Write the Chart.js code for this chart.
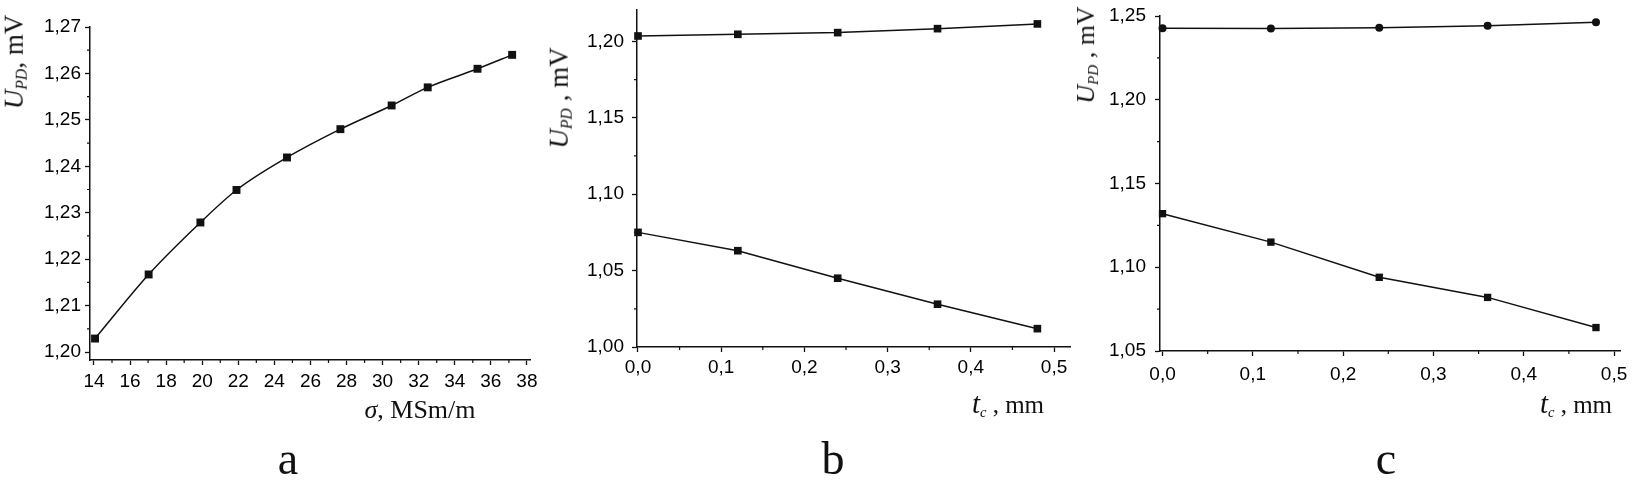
<!DOCTYPE html>
<html lang="en">
<head>
<meta charset="UTF-8">
<title>U_PD versus conductivity and coating thickness</title>
<script src="https://cdn.jsdelivr.net/npm/chart.js"></script>
<style>
  html, body { margin: 0; padding: 0; background: #fff; }
  #page { position: relative; width: 1632px; height: 481px; overflow: hidden; }
  .layer { position: absolute; left: 0; top: 0; width: 1632px; height: 481px; }
  .txt {
    position: absolute;
    font-family: "Liberation Serif", "Times New Roman", serif;
    color: #111;
    white-space: nowrap;
    line-height: 1;
    transform: translate(-50%, -50%);
  }
  .rot { transform: translate(-50%, -50%) rotate(-90deg); }
  .txt sub { font-size: 58%; font-style: italic; vertical-align: -0.25em; }
  .panel { font-size: 46px; transform: translate(-50%, 0); }
</style>
</head>
<body>
<div id="page">
  <div class="layer"><canvas id="chartA"></canvas></div>
  <div class="layer"><canvas id="chartB"></canvas></div>
  <div class="layer"><canvas id="chartC"></canvas></div>

  <div class="txt rot" style="left:15px; top:62px; font-size:27px;"><i>U</i><sub>PD</sub>, mV</div>
  <div class="txt" style="left:420px; top:410px; font-size:26px;"><i>σ</i>, MSm/m</div>

  <div class="txt rot" style="left:560px; top:98px; font-size:27px;"><i>U</i><sub>PD</sub> , mV</div>
  <div class="txt" style="left:1008px; top:404px; font-size:25px;"><i style="font-size:29px">t</i><sub>c</sub> , mm</div>

  <div class="txt rot" style="left:1087px; top:55px; font-size:26px;"><i>U</i><sub>PD</sub> , mV</div>
  <div class="txt" style="left:1576px; top:404px; font-size:25px;"><i style="font-size:29px">t</i><sub>c</sub> , mm</div>

  <div class="txt panel" style="left:288px; top:436px;">a</div>
  <div class="txt panel" style="left:833px; top:436px;">b</div>
  <div class="txt panel" style="left:1386px; top:436px;">c</div>
</div>

<script>
// panel a: U_PD vs sigma
const sigma = [14.06, 17.03, 19.9, 21.9, 24.7, 27.66, 30.5, 32.5, 35.26, 37.18];
const updSigma = [1.2029, 1.2167, 1.2279, 1.2349, 1.2419, 1.248, 1.2531, 1.257, 1.261, 1.264];
const aXTicks = [14, 16, 18, 20, 22, 24, 26, 28, 30, 32, 34, 36, 38];
const aYTicks = [1.20, 1.21, 1.22, 1.23, 1.24, 1.25, 1.26, 1.27];

// panels b and c: U_PD vs coating thickness
const thickness = [0, 0.12, 0.24, 0.36, 0.48];
const bUpper = [1.2035, 1.2046, 1.2057, 1.2083, 1.2114];
const bLower = [1.075, 1.063, 1.045, 1.028, 1.012];
const cUpper = [1.2427, 1.2425, 1.243, 1.2442, 1.2462];
const cLower = [1.132, 1.115, 1.094, 1.082, 1.064];
const tTicks = [0, 0.1, 0.2, 0.3, 0.4, 0.5];
const bYTicks = [1.00, 1.05, 1.10, 1.15, 1.20];
const cYTicks = [1.05, 1.10, 1.15, 1.20, 1.25];

const W = 1632, H = 481;
const INK = '#111';

function midpoints(arr) {
  const out = [];
  for (let i = 0; i < arr.length - 1; i++) out.push((arr[i] + arr[i + 1]) / 2);
  return out;
}

function pts(xs, ys) {
  return xs.map((x, i) => ({ x: x, y: ys[i] }));
}

// short minor ticks between the labelled ones
const minorTicks = {
  id: 'minorTicks',
  afterDraw(chart, args, opts) {
    const ctx = chart.ctx;
    ctx.save();
    ctx.strokeStyle = INK;
    ctx.lineWidth = 1.2;
    const xs = chart.scales.x, ys = chart.scales.y;
    ctx.beginPath();
    (opts.x || []).forEach(v => {
      const p = xs.getPixelForValue(v);
      ctx.moveTo(p, xs.top);
      ctx.lineTo(p, xs.top + 3);
    });
    (opts.y || []).forEach(v => {
      const p = ys.getPixelForValue(v);
      ctx.moveTo(ys.right, p);
      ctx.lineTo(ys.right - 3, p);
    });
    ctx.stroke();
    ctx.restore();
  }
};

function makePanel(id, area, xr, yr, xTicks, yTicks, xFmt, yFmt, datasets, pad) {
  const yW = 70, xH = 44;
  return new Chart(document.getElementById(id), {
    type: 'scatter',
    data: { datasets: datasets },
    plugins: [minorTicks],
    options: {
      responsive: true,
      maintainAspectRatio: false,
      animation: false,
      layout: {
        padding: {
          left: area.left - yW,
          right: W - area.right,
          top: area.top,
          bottom: H - area.bottom - xH
        }
      },
      plugins: {
        legend: { display: false },
        tooltip: { enabled: false },
        minorTicks: { x: midpoints(xTicks), y: midpoints(yTicks) }
      },
      scales: {
        x: {
          type: 'linear',
          min: xr[0], max: xr[1],
          afterBuildTicks: s => { s.ticks = xTicks.map(v => ({ value: v })); },
          afterFit: s => { s.height = xH; s.paddingLeft = 0; s.paddingRight = 0; },
          grid: { drawOnChartArea: false, drawTicks: true, tickLength: 5, color: INK, tickWidth: 1.3 },
          border: { display: true, color: INK, width: 1.5 },
          ticks: {
            autoSkip: false, maxRotation: 0, padding: pad.x,
            color: '#000',
            font: { family: '"Liberation Sans", Arial, sans-serif', size: 19 },
            callback: v => xFmt(v)
          }
        },
        y: {
          type: 'linear',
          min: yr[0], max: yr[1],
          afterBuildTicks: s => { s.ticks = yTicks.map(v => ({ value: v })); },
          afterFit: s => { s.width = yW; s.paddingTop = 0; s.paddingBottom = 0; },
          grid: { drawOnChartArea: false, drawTicks: true, tickLength: 5, color: INK, tickWidth: 1.3 },
          border: { display: true, color: INK, width: 1.5 },
          ticks: {
            autoSkip: false, padding: pad.y,
            color: '#000',
            font: { family: '"Liberation Sans", Arial, sans-serif', size: 19 },
            callback: v => yFmt(v)
          }
        }
      }
    }
  });
}

function series(data, style, radius, smooth) {
  return {
    data: data,
    showLine: true,
    borderColor: INK,
    borderWidth: 1.5,
    backgroundColor: INK,
    pointStyle: style,
    pointRadius: radius,
    pointBorderWidth: 0,
    pointBackgroundColor: INK,
    tension: smooth ? 0.4 : 0,
    cubicInterpolationMode: smooth ? 'monotone' : 'default',
    clip: false
  };
}

const comma = d => v => v.toFixed(d).replace('.', ',');

makePanel('chartA',
  { left: 90, right: 530, top: 27, bottom: 360 },
  [13.78, 38.17], [1.19828, 1.27],
  aXTicks, aYTicks, v => String(v), comma(2),
  [series(pts(sigma, updSigma), 'rect', 5.6, true)],
  { x: 5, y: 4 });

makePanel('chartB',
  { left: 637, right: 1070, top: 10, bottom: 347 },
  [-0.0012, 0.5192], [1.0, 1.2205],
  tTicks, bYTicks, comma(1), comma(2),
  [series(pts(thickness, bUpper), 'rect', 5.4, false),
   series(pts(thickness, bLower), 'rect', 5.4, false)],
  { x: 4, y: 8 });

makePanel('chartC',
  { left: 1160, right: 1620, top: 16, bottom: 351 },
  [-0.0028, 0.5066], [1.05, 1.25],
  tTicks, cYTicks, comma(1), comma(2),
  [series(pts(thickness, cUpper), 'circle', 4.0, false),
   series(pts(thickness, cLower), 'rect', 5.2, false)],
  { x: 7, y: 9 });
</script>
</body>
</html>
